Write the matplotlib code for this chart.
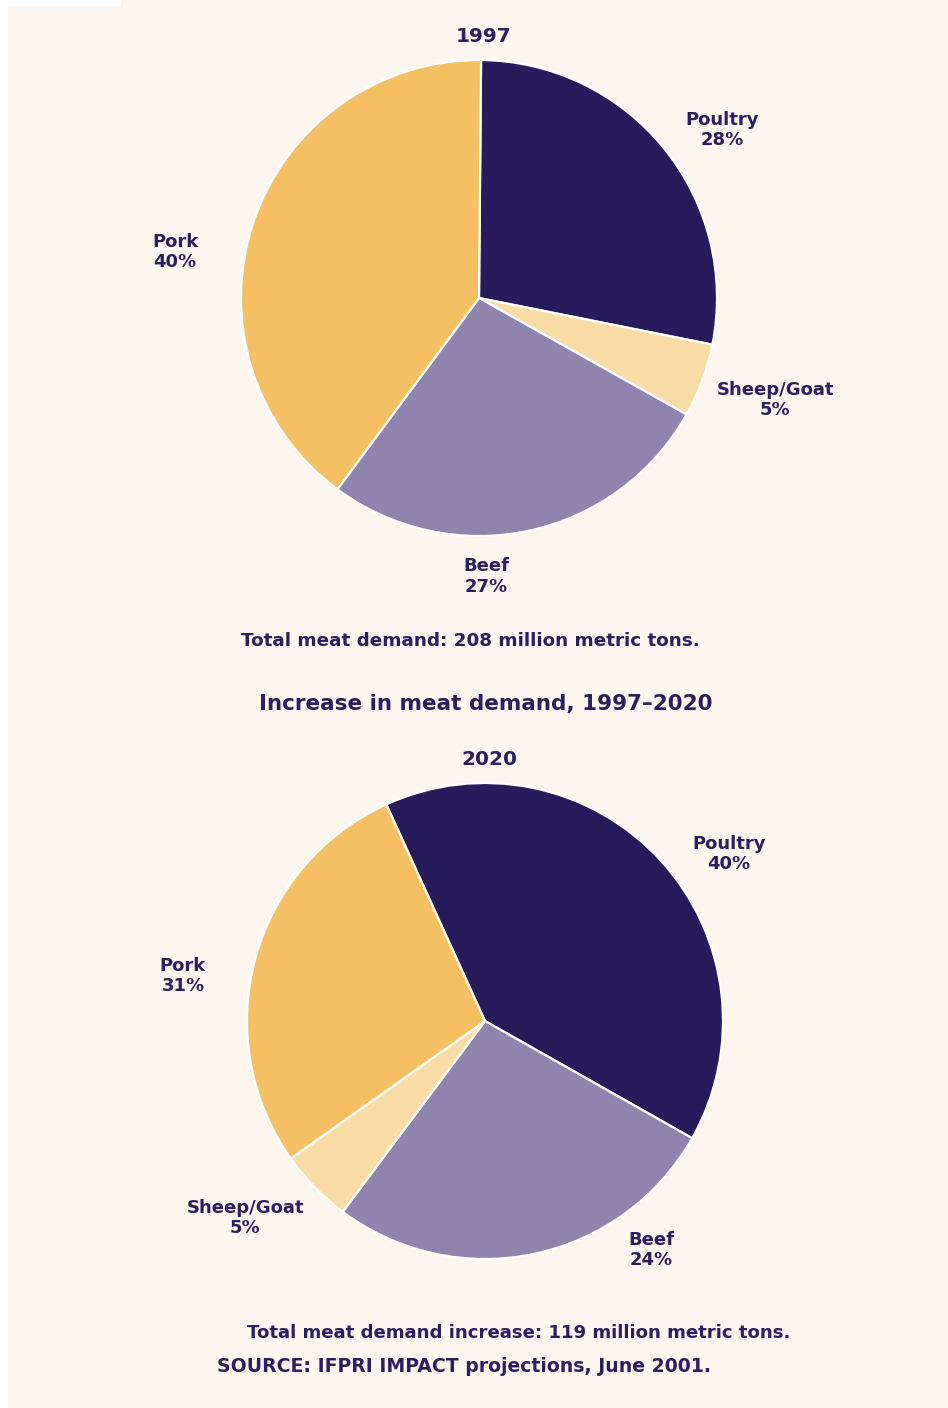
import matplotlib.pyplot as plt
from matplotlib.patches import Rectangle

# data
categories = ["Poultry", "Sheep/Goat", "Beef", "Pork"]
# wedge sizes as drawn in the picture
sizes_1997 = [28, 5, 27, 40]
pcts_1997 = [28, 5, 27, 40]
sizes_2020 = [40, 27, 5, 28]
pcts_2020 = [40, 24, 5, 31]
order_2020 = ["Poultry", "Beef", "Sheep/Goat", "Pork"]

colors = {"Poultry": "#271b5c", "Sheep/Goat": "#f9dba6",
          "Beef": "#8e84ae", "Pork": "#f4c063"}
bg = "#fdf6ef"
ink = "#2a2060"

W, H = 948, 1408
R = 238  # pie radius in pixels

fig = plt.figure(figsize=(W / 100, H / 100), dpi=100, facecolor=bg)

# white strips in the scan corner
fig.patches.append(Rectangle((0, 0), 8 / W, 1, transform=fig.transFigure,
                             facecolor="white", edgecolor="none"))
fig.patches.append(Rectangle((0, 1 - 6 / H), 121 / W, 6 / H, transform=fig.transFigure,
                             facecolor="white", edgecolor="none"))


def make_ax(cx, cy):
    """axes whose unit is one pie radius, centred at pixel (cx, cy) from top"""
    half = 1.3 * R
    ax = fig.add_axes([(cx - half) / W, (H - cy - half) / H, 2 * half / W, 2 * half / H])
    ax.set_xlim(-1.3, 1.3)
    ax.set_ylim(-1.3, 1.3)
    ax.set_aspect("equal")
    ax.axis("off")
    return ax


def draw_pie(ax, names, sizes, pcts, start, label_pos, title):
    ax.pie(sizes, colors=[colors[n] for n in names], startangle=start, counterclock=False,
           radius=1, wedgeprops=dict(edgecolor="white", linewidth=1.6))
    for name, p, (x, y) in zip(names, pcts, label_pos):
        ax.text(x, y, f"{name}\n{p}%", ha="center", va="center", multialignment="center",
                fontsize=13, fontweight="bold", color=ink, linespacing=1.15)
    ax.text(0.02, 1.10, title, ha="center", va="center", fontsize=14.5,
            fontweight="bold", color=ink)
    ax.set_xlim(-1.3, 1.3)
    ax.set_ylim(-1.3, 1.3)


# 1997
ax1 = make_ax(479, 298)
draw_pie(ax1, categories, sizes_1997, pcts_1997, 89.5,
         [(1.02, 0.706), (1.244, -0.43), (0.03, -1.17), (-1.277, 0.193)], "1997")

# 2020
ax2 = make_ax(485, 1021)
draw_pie(ax2, order_2020, sizes_2020, pcts_2020, 114.5,
         [(1.025, 0.70), (0.697, -0.962), (-1.008, -0.828), (-1.269, 0.189)], "2020")


def ftext(x, y, s, size, **kw):
    fig.text(x / W, 1 - y / H, s, ha="center", va="center", fontsize=size,
             fontweight="bold", color=ink, **kw)


ftext(470, 641, "Total meat demand: 208 million metric tons.", 13.2)
ftext(486, 704, "Increase in meat demand, 1997\u20132020", 15.5)
ftext(519, 1333, "Total meat demand increase: 119 million metric tons.", 13.1)
ftext(464, 1367, "SOURCE: IFPRI IMPACT projections, June 2001.", 13.6)

fig.savefig("out.png", dpi=100, facecolor=bg)
